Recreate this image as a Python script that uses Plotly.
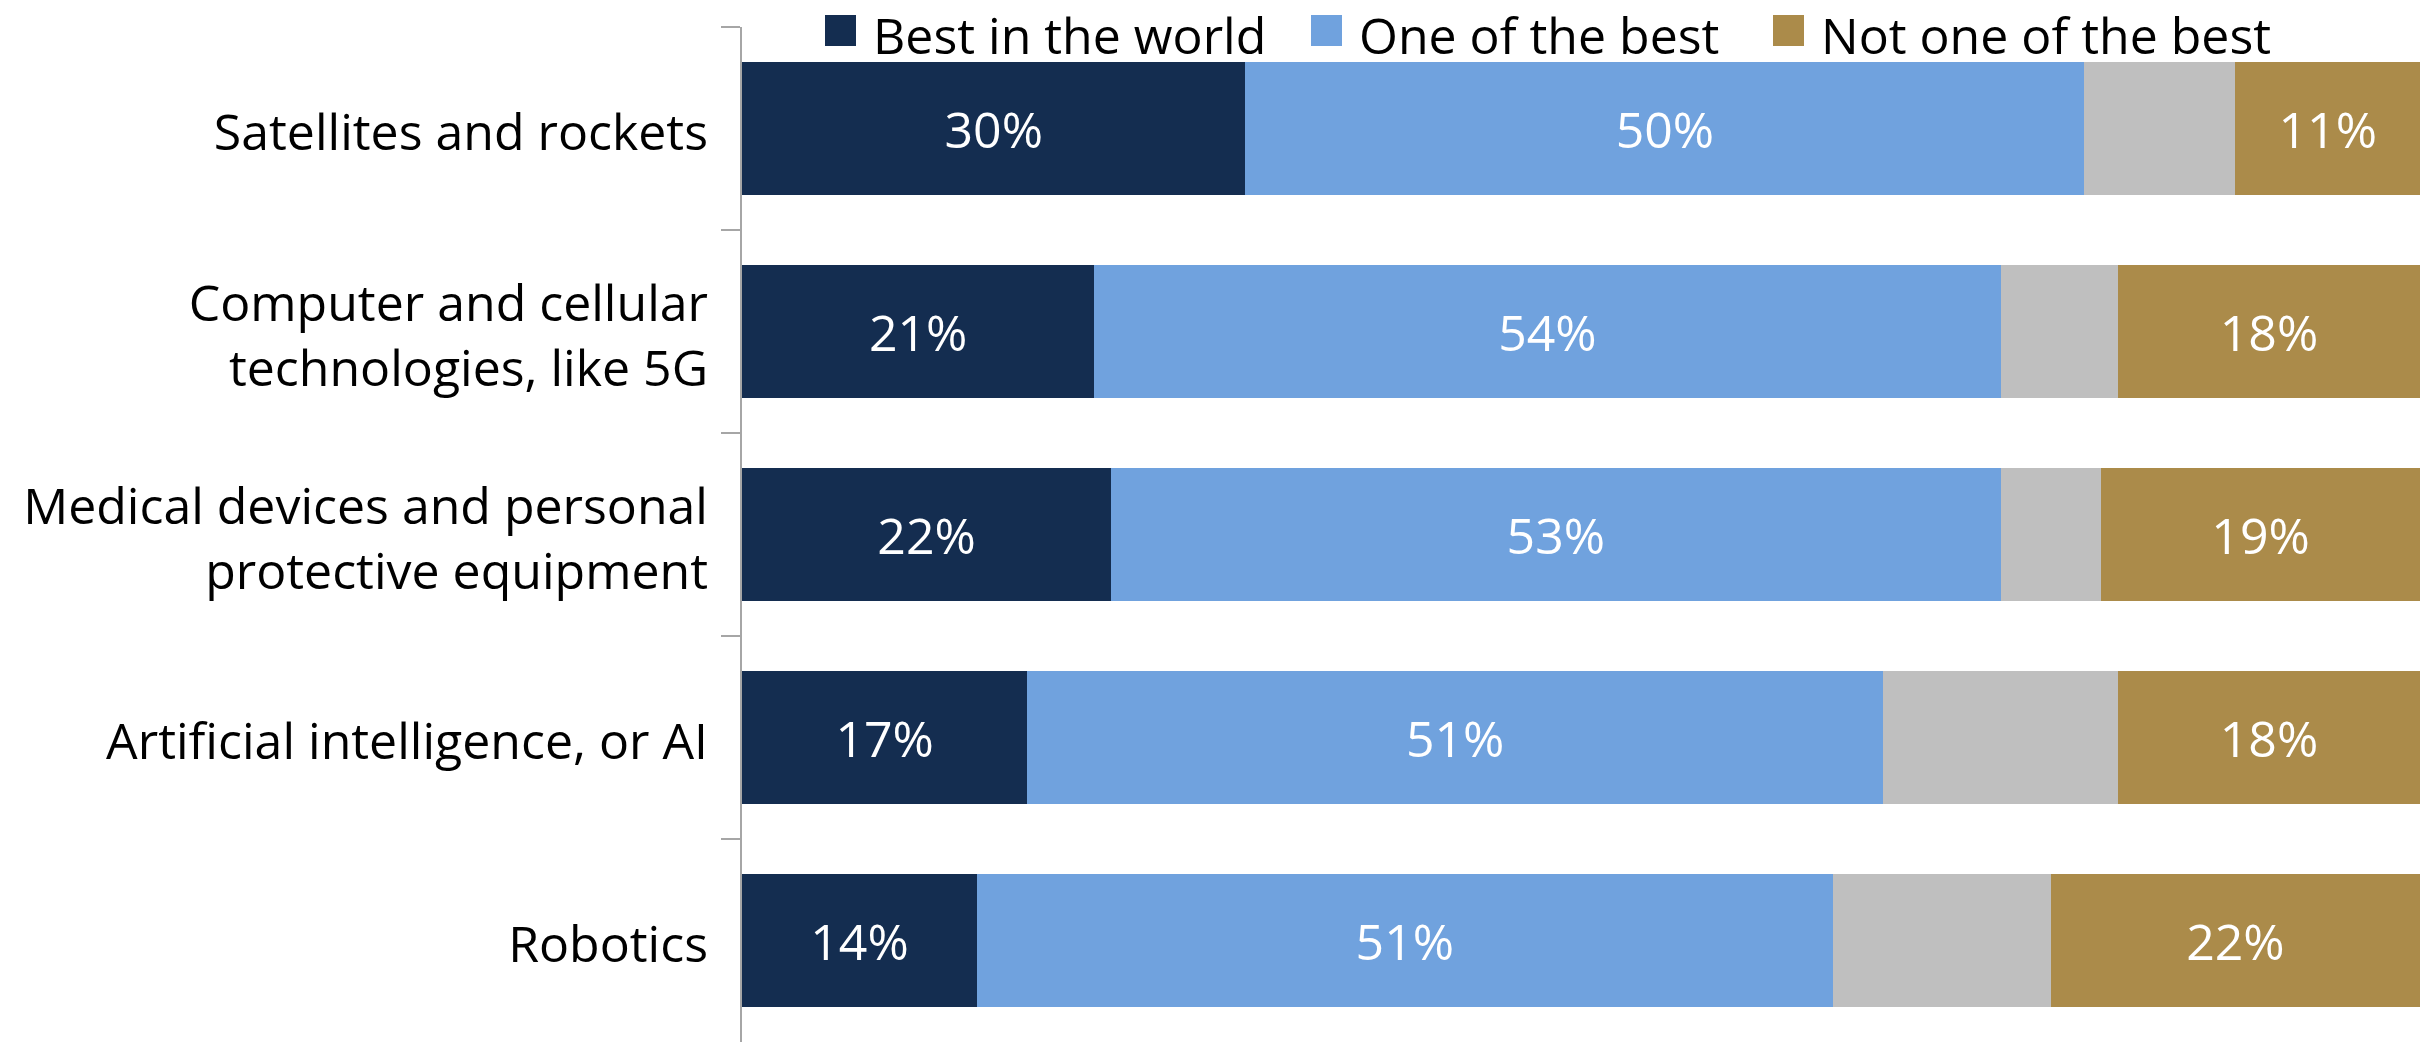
import plotly.graph_objects as go

categories = [
    "Satellites and rockets",
    "Computer and cellular<br>technologies, like 5G",
    "Medical devices and personal<br>protective equipment",
    "Artificial intelligence, or AI",
    "Robotics",
]
best_in_world = [30, 21, 22, 17, 14]
one_of_best = [50, 54, 53, 51, 51]
no_answer = [9, 7, 6, 14, 13]
not_one_of_best = [11, 18, 19, 18, 22]

series = [
    ("Best in the world", best_in_world, "#142D50", True),
    ("One of the best", one_of_best, "#70A2DE", True),
    ("No answer", no_answer, "#BFBFBF", False),
    ("Not one of the best", not_one_of_best, "#AB8B4A", True),
]

FONT = "Open Sans"
FS = 50
W, H = 2420, 1042
ML, MR, MT, MB = 742, 0, 27, 0
PW, PH = W - ML - MR, H - MT - MB

fig = go.Figure()
for name, vals, color, show_text in series:
    fig.add_trace(go.Bar(
        y=categories, x=vals, name=name, orientation="h",
        marker=dict(color=color, line=dict(width=0)),
        showlegend=False,
        text=[f"{v}%" for v in vals] if show_text else None,
        textposition="inside" if show_text else "none",
        insidetextanchor="middle",
        textangle=0,
        textfont=dict(color="white", size=FS, family=FONT),
        hoverinfo="skip",
    ))

# Legend drawn as layout decoration (square swatch + text), top of chart
def px_x(p):
    return (p - ML) / PW

def px_y(p):
    return 1 - (p - MT) / PH

legend_items = [(n, c) for n, v, c, t in series if t]
legend_square_left = [825, 1311, 1773]
SQ = 31
for (name, color), sx in zip(legend_items, legend_square_left):
    fig.add_shape(type="rect", xref="paper", yref="paper",
                  x0=px_x(sx), x1=px_x(sx + SQ), y0=px_y(46), y1=px_y(15),
                  fillcolor=color, line=dict(width=0), layer="above")
    fig.add_annotation(xref="paper", yref="paper", x=px_x(sx + SQ + 16), y=px_y(0),
                       xanchor="left", yanchor="top", showarrow=False, borderpad=0,
                       text=name, font=dict(size=FS, family=FONT, color="black"))

fig.update_layout(
    barmode="stack",
    bargap=0.34,
    width=W, height=H,
    margin=dict(l=ML, r=MR, t=MT, b=MB, autoexpand=False),
    paper_bgcolor="white", plot_bgcolor="white",
    font=dict(family=FONT, size=FS, color="black"),
    showlegend=False,
)
fig.update_xaxes(range=[0, 100], visible=False, fixedrange=True)
fig.update_yaxes(
    autorange="reversed", automargin=False,
    showline=True, linecolor="#A6A6A6", linewidth=2,
    ticks="outside", tickson="boundaries", ticklen=19, tickcolor="#A6A6A6", tickwidth=2,
    ticklabelstandoff=22, ticklabelshift=-4,
    showgrid=False, zeroline=False,
    tickfont=dict(size=FS, family=FONT, color="black"),
)

fig.write_html(
    "out.html",
    config={"displayModeBar": False},
    post_script="document.body.style.margin='0';document.body.style.overflow='hidden';",
)
